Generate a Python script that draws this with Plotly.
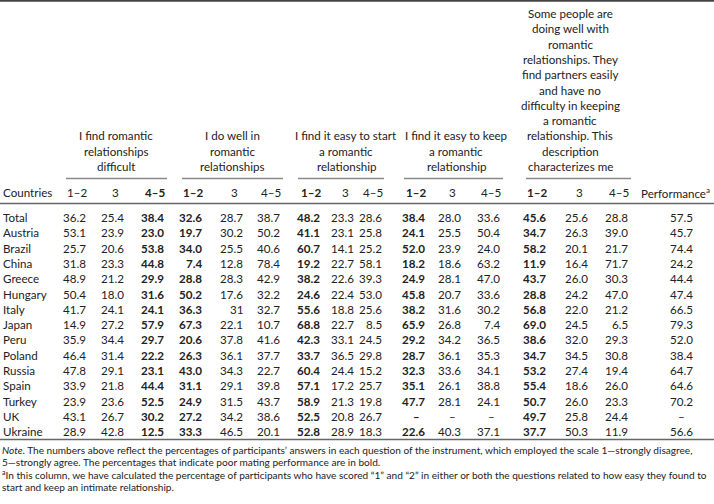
import plotly.graph_objects as go

countries = ["Total", "Austria", "Brazil", "China", "Greece", "Hungary", "Italy", "Japan",
             "Peru", "Poland", "Russia", "Spain", "Turkey", "UK", "Ukraine"]

questions = [
    ["I find romantic", "relationships", "difficult"],
    ["I do well in", "romantic", "relationships"],
    ["I find it easy to start", "a romantic", "relationship"],
    ["I find it easy to keep", "a romantic", "relationship"],
    ["Some people are", "doing well with", "romantic", "relationships. They",
     "find partners easily", "and have no", "difficulty in keeping", "a romantic",
     "relationship. This", "description", "characterizes me"],
]
scale_labels = ["1–2", "3", "4–5"]

# None = not available (dash)
difficult_12 = [36.2, 53.1, 25.7, 31.8, 48.9, 50.4, 41.7, 14.9, 35.9, 46.4, 47.8, 33.9, 23.9, 43.1, 28.9]
difficult_3 = [25.4, 23.9, 20.6, 23.3, 21.2, 18.0, 24.1, 27.2, 34.4, 31.4, 29.1, 21.8, 23.6, 26.7, 42.8]
difficult_45 = [38.4, 23.0, 53.8, 44.8, 29.9, 31.6, 24.1, 57.9, 29.7, 22.2, 23.1, 44.4, 52.5, 30.2, 12.5]

dowell_12 = [32.6, 19.7, 34.0, 7.4, 28.8, 50.2, 36.3, 67.3, 20.6, 26.3, 43.0, 31.1, 24.9, 27.2, 33.3]
dowell_3 = [28.7, 30.2, 25.5, 12.8, 28.3, 17.6, 31, 22.1, 37.8, 36.1, 34.3, 29.1, 31.5, 34.2, 46.5]
dowell_45 = [38.7, 50.2, 40.6, 78.4, 42.9, 32.2, 32.7, 10.7, 41.6, 37.7, 22.7, 39.8, 43.7, 38.6, 20.1]

start_12 = [48.2, 41.1, 60.7, 19.2, 38.2, 24.6, 55.6, 68.8, 42.3, 33.7, 60.4, 57.1, 58.9, 52.5, 52.8]
start_3 = [23.3, 23.1, 14.1, 22.7, 22.6, 22.4, 18.8, 22.7, 33.1, 36.5, 24.4, 17.2, 21.3, 20.8, 28.9]
start_45 = [28.6, 25.8, 25.2, 58.1, 39.3, 53.0, 25.6, 8.5, 24.5, 29.8, 15.2, 25.7, 19.8, 26.7, 18.3]

keep_12 = [38.4, 24.1, 52.0, 18.2, 24.9, 45.8, 38.2, 65.9, 29.2, 28.7, 32.3, 35.1, 47.7, None, 22.6]
keep_3 = [28.0, 25.5, 23.9, 18.6, 28.1, 20.7, 31.6, 26.8, 34.2, 36.1, 33.6, 26.1, 28.1, None, 40.3]
keep_45 = [33.6, 50.4, 24.0, 63.2, 47.0, 33.6, 30.2, 7.4, 36.5, 35.3, 34.1, 38.8, 24.1, None, 37.1]

me_12 = [45.6, 34.7, 58.2, 11.9, 43.7, 28.8, 56.8, 69.0, 38.6, 34.7, 53.2, 55.4, 50.7, 49.7, 37.7]
me_3 = [25.6, 26.3, 20.1, 16.4, 26.0, 24.2, 22.0, 24.5, 32.0, 34.5, 27.4, 18.6, 26.0, 25.8, 50.3]
me_45 = [28.8, 39.0, 21.7, 71.7, 30.3, 47.0, 21.2, 6.5, 29.3, 30.8, 19.4, 26.0, 23.3, 24.4, 11.9]

performance = [57.5, 45.7, 74.4, 24.2, 44.4, 47.4, 66.5, 79.3, 52.0, 38.4, 64.7, 64.6, 70.2, None, 56.6]

columns = [difficult_12, difficult_3, difficult_45,
           dowell_12, dowell_3, dowell_45,
           start_12, start_3, start_45,
           keep_12, keep_3, keep_45,
           me_12, me_3, me_45]
bold_cols = {2, 3, 6, 9, 12}

# layout (page pixels, y down)
FONT = "Lato"
FS = 11.6
col_right = [88, 126, 166, 204, 245, 282, 322, 356, 384, 427, 463, 502, 548, 590, 630]
col_width = 22
head_center = [116, 232, 346, 456, 570]
rule_span = [(66, 167), (182, 283), (298, 384), (404, 503), (526, 631)]
perf_center = 681
row_y0, row_dy = 217.5, 15.3
sub_y = 192.5
head_bottom = 166.5
line_h = 15.3
TEXT = "#222"


def fmt(v):
    if v is None:
        return "–"
    if isinstance(v, int):
        return str(v)
    return f"{v:.1f}"


fig = go.Figure()
ann = []


def add(x, y, text, xanchor="center", size=FS, bold=False, align="center"):
    ann.append(dict(x=x, y=y, xref="x", yref="y", text=f"<b>{text}</b>" if bold else text,
                    showarrow=False, xanchor=xanchor, yanchor="middle", align=align,
                    font=dict(family=FONT, size=size, color=TEXT)))


# country names
add(1, sub_y, "Countries", xanchor="left")
for i, c in enumerate(countries):
    add(1, row_y0 + i * row_dy, c, xanchor="left")

# values
for j, col in enumerate(columns):
    b = j in bold_cols
    xr = col_right[j]
    add(xr - col_width / 2, sub_y, scale_labels[j % 3], bold=b)
    for i, v in enumerate(col):
        if v is None:
            add(xr - col_width / 2, row_y0 + i * row_dy, "–", bold=b)
        else:
            add(xr, row_y0 + i * row_dy, fmt(v), xanchor="right", bold=b)

add(712, sub_y, "Performance<sup>a</sup>", xanchor="right")
for i, v in enumerate(performance):
    add(perf_center, row_y0 + i * row_dy, fmt(v))

# question headers (bottom aligned) and group rules
shapes = []
for q, lines in enumerate(questions):
    n = len(lines)
    for k, t in enumerate(lines):
        add(head_center[q], head_bottom - (n - 1 - k) * line_h, t)
    x0, x1 = rule_span[q]
    shapes.append(dict(type="line", xref="x", yref="y", x0=x0, x1=x1, y0=178.5, y1=178.5,
                       line=dict(color="#8a8a8a", width=1.5)))

shapes += [
    dict(type="line", xref="x", yref="y", x0=0, x1=714, y0=0.8, y1=0.8, line=dict(color="#444", width=2)),
    dict(type="line", xref="x", yref="y", x0=0, x1=714, y0=203.5, y1=203.5, line=dict(color="#666", width=1.5)),
    dict(type="line", xref="x", yref="y", x0=0, x1=714, y0=439.5, y1=439.5, line=dict(color="#666", width=1.5)),
]

notes = [
    "<i>Note</i>. The numbers above reflect the percentages of participants’ answers in each question of the instrument, which employed the scale 1—strongly disagree,",
    "5—strongly agree. The percentages that indicate poor mating performance are in bold.",
    "<sup>a</sup>In this column, we have calculated the percentage of participants who have scored “1” and “2” in either or both the questions related to how easy they found to",
    "start and keep an intimate relationship.",
]
for k, t in enumerate(notes):
    add(0, 450 + k * 12.2, t, xanchor="left", size=10.1, align="left")

fig.update_layout(
    width=714, height=504,
    margin=dict(l=0, r=0, t=0, b=0),
    paper_bgcolor="white", plot_bgcolor="white",
    xaxis=dict(range=[0, 714], visible=False, fixedrange=True),
    yaxis=dict(range=[504, 0], visible=False, fixedrange=True),
    annotations=ann, shapes=shapes, showlegend=False,
)
fig.write_html("out.html", config={"displayModeBar": False},
               post_script="document.body.style.margin='0';")
